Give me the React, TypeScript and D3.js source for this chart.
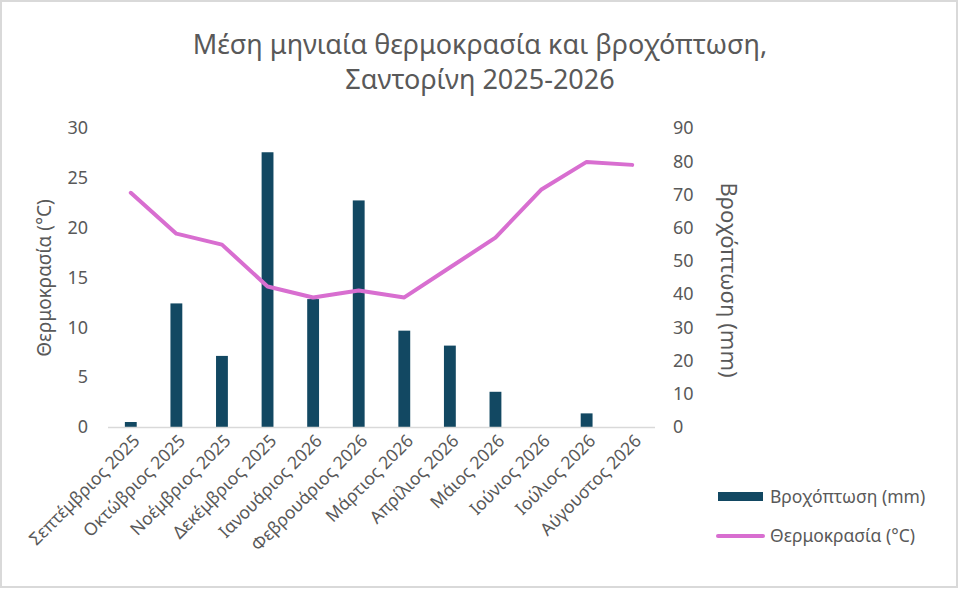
import React, { useEffect } from "react";
import * as d3 from "d3";

const months = [
  "Σεπτέμβριος 2025",
  "Οκτώβριος 2025",
  "Νοέμβριος 2025",
  "Δεκέμβριος 2025",
  "Ιανουάριος 2026",
  "Φεβρουάριος 2026",
  "Μάρτιος 2026",
  "Απρίλιος 2026",
  "Μάιος 2026",
  "Ιούνιος 2026",
  "Ιούλιος 2026",
  "Αύγουστος 2026",
];
const rainfall = [1.5, 37.2, 21.4, 82.7, 38.5, 68.2, 29, 24.5, 10.6, 0, 4.1, 0];
const temperature = [23.5, 19.4, 18.3, 14.1, 13.0, 13.7, 13.0, 16.0, 19.0, 23.8, 26.6, 26.3];
const tempTicks = [0, 5, 10, 15, 20, 25, 30];
const rainTicks = [0, 10, 20, 30, 40, 50, 60, 70, 80, 90];

const W = 960;
const H = 590;
const FONT = "'Noto Sans', 'Open Sans', sans-serif";
const GREY = "#595959";
const BAR = "#124862";
const LINE = "#D86ED0";

export default function App() {
  useEffect(() => {
    document.body.style.margin = "0";
  }, []);

  const x = d3.scaleBand<string>().domain(months).range([108, 655]).paddingInner(0.74).paddingOuter(0.37);
  const yT = d3.scaleLinear().domain([0, 30]).range([427, 128]);
  const yR = d3.scaleLinear().domain([0, 90]).range([427, 128]);
  const cx = (m: string) => (x(m) ?? 0) + x.bandwidth() / 2;
  const line = d3
    .line<number>()
    .x((_, i) => cx(months[i]))
    .y((d) => yT(d));

  return (
    <svg width={W} height={H} style={{ display: "block", fontFamily: FONT }}>
      <rect x={1} y={1} width={W - 4} height={H - 4} fill="#fff" stroke="#d9d9d9" strokeWidth={2} />
      <text x={480} y={54} textAnchor="middle" fontSize={27} fill={GREY}>
        Μέση μηνιαία θερμοκρασία και βροχόπτωση,
      </text>
      <text x={480} y={89} textAnchor="middle" fontSize={27} fill={GREY}>
        Σαντορίνη 2025-2026
      </text>

      {tempTicks.map((t) => (
        <text key={"l" + t} x={88} y={yT(t)} dy="0.35em" textAnchor="end" fontSize={18} fill={GREY}>
          {t}
        </text>
      ))}
      {rainTicks.map((t) => (
        <text key={"r" + t} x={673} y={yR(t)} dy="0.35em" textAnchor="start" fontSize={18} fill={GREY}>
          {t}
        </text>
      ))}

      <text transform={`translate(51,278) rotate(-90)`} textAnchor="middle" fontSize={19} fill={GREY}>
        Θερμοκρασία (°C)
      </text>
      <text transform={`translate(721,280) rotate(90)`} textAnchor="middle" fontSize={22} fill={GREY}>
        Βροχόπτωση (mm)
      </text>

      {months.map((m, i) => (
        <rect
          key={"b" + m}
          x={x(m)}
          y={yR(rainfall[i])}
          width={x.bandwidth()}
          height={yR(0) - yR(rainfall[i])}
          fill={BAR}
        />
      ))}

      <line x1={108} x2={655} y1={427.5} y2={427.5} stroke="#d9d9d9" strokeWidth={1.5} />

      <path d={line(temperature) ?? ""} fill="none" stroke={LINE} strokeWidth={4} strokeLinejoin="round" strokeLinecap="round" />

      {months.map((m) => (
        <text
          key={"x" + m}
          transform={`translate(${cx(m) + 10},${442}) rotate(-45)`}
          textAnchor="end"
          fontSize={17.5}
          fill={GREY}
        >
          {m}
        </text>
      ))}

      <rect x={718} y={492} width={45} height={9} fill={BAR} />
      <text x={770} y={497} dy="0.35em" fontSize={17.5} fill={GREY}>
        Βροχόπτωση (mm)
      </text>
      <line x1={718} x2={763} y1={536} y2={536} stroke={LINE} strokeWidth={4} strokeLinecap="round" />
      <text x={770} y={536} dy="0.35em" fontSize={17.5} fill={GREY}>
        Θερμοκρασία (°C)
      </text>
    </svg>
  );
}
